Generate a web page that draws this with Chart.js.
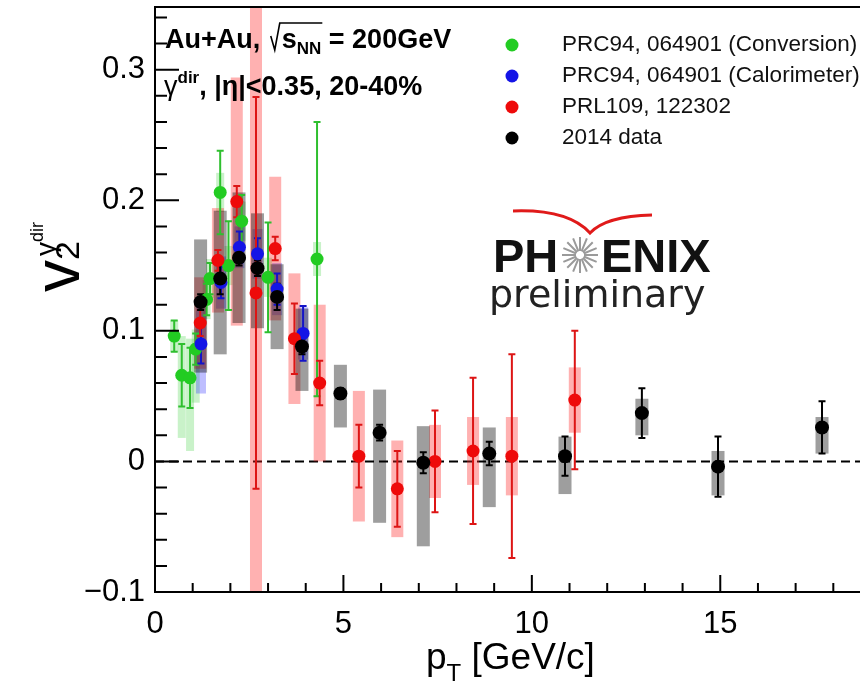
<!DOCTYPE html>
<html>
<head>
<meta charset="utf-8">
<script src="https://cdn.jsdelivr.net/npm/chart.js@4.4.0/dist/chart.umd.min.js"></script>
<style>
html, body { margin: 0; padding: 0; background: #fff; overflow: hidden; }
#wrap { width: 880px; height: 691px; }
</style>
</head>
<body>
<div id="wrap"><canvas id="v2Chart" width="880" height="691"></canvas></div>
<script>
// PRC94, 064901 (Conversion)
const convPt    = [0.51, 0.71, 0.93, 1.08, 1.37, 1.46, 1.73, 1.95, 2.30, 3.00, 4.30];
const convV     = [0.096, 0.066, 0.064, 0.086, 0.124, 0.140, 0.206, 0.150, 0.184, 0.141, 0.155];
const convStat  = [0.012, 0.024, 0.023, 0.012, 0.012, 0.012, 0.032, 0.034, 0.020, 0.042, 0.105];
const convSysUp = [0.012, 0.030, 0.030, 0.015, 0.015, 0.015, 0.015, 0.015, 0.015, 0.015, 0.013];
const convSysDn = [0.012, 0.048, 0.056, 0.041, 0.015, 0.015, 0.015, 0.015, 0.015, 0.015, 0.013];

// PRC94, 064901 (Calorimeter)
const caloPt    = [1.22, 1.75, 2.24, 2.72, 3.24, 3.93];
const caloV     = [0.090, 0.137, 0.164, 0.159, 0.132, 0.098];
const caloStat  = [0.015, 0.012, 0.012, 0.012, 0.012, 0.021];
const caloSysUp = [0.030, 0.020, 0.016, 0.019, 0.020, 0.020];
const caloSysDn = [0.038, 0.020, 0.016, 0.019, 0.020, 0.020];

// PRL109, 122302
const prlPt    = [1.20, 1.67, 2.17, 2.68, 3.19, 3.70, 4.37, 5.41, 6.43, 7.43, 8.44, 9.47, 11.14];
const prlV     = [0.106, 0.154, 0.199, 0.129, 0.163, 0.094, 0.060, 0.004, -0.021, 0.000, 0.008, 0.004, 0.047];
const prlStat  = [0.010, 0.008, 0.012, 0.150, 0.009, 0.027, 0.017, 0.024, 0.029, 0.039, 0.056, 0.078, 0.053];
const prlSysUp = [0.035, 0.040, 0.095, 0.260, 0.055, 0.050, 0.060, 0.050, 0.037, 0.028, 0.026, 0.030, 0.025];
const prlSysDn = [0.035, 0.040, 0.095, 0.260, 0.055, 0.050, 0.060, 0.050, 0.037, 0.028, 0.026, 0.030, 0.025];

// 2014 data
const run14Pt    = [1.21, 1.73, 2.23, 2.72, 3.24, 3.90, 4.92, 5.96, 7.12, 8.87, 10.88, 12.92, 14.94, 17.70];
const run14V     = [0.122, 0.140, 0.156, 0.148, 0.126, 0.088, 0.052, 0.022, -0.001, 0.006, 0.004, 0.037, -0.004, 0.026];
const run14Stat  = [0.006, 0.012, 0.006, 0.006, 0.010, 0.006, 0.004, 0.006, 0.008, 0.009, 0.015, 0.019, 0.023, 0.020];
const run14SysUp = [0.048, 0.052, 0.050, 0.042, 0.025, 0.029, 0.022, 0.033, 0.028, 0.020, 0.015, 0.011, 0.012, 0.008];
const run14SysDn = [0.054, 0.058, 0.050, 0.046, 0.040, 0.034, 0.026, 0.069, 0.064, 0.041, 0.029, 0.017, 0.022, 0.020];

// axis ticks
const xTickValues = [0, 5, 10, 15];
const xTickLabels = ['0', '5', '10', '15'];
const yTickValues = [-0.1, 0, 0.1, 0.2, 0.3];
const yTickLabels = ['\u22120.1', '0', '0.1', '0.2', '0.3'];

const FONT = '"Liberation Sans", Arial, Helvetica, sans-serif';

const series = [
    { label: 'PRC94, 064901 (Conversion)', pt: convPt, v: convV, stat: convStat, up: convSysUp, dn: convSysDn,
      color: '#22cc22', bar: '#2fbf2f', box: 'rgba(60,210,60,0.28)', boxW: 8, order: 4 },
    { label: 'PRC94, 064901 (Calorimeter)', pt: caloPt, v: caloV, stat: caloStat, up: caloSysUp, dn: caloSysDn,
      color: '#1414e6', bar: '#1414c8', box: 'rgba(40,40,255,0.3)', boxW: 10, order: 3 },
    { label: 'PRL109, 122302', pt: prlPt, v: prlV, stat: prlStat, up: prlSysUp, dn: prlSysDn,
      color: '#ee0a0a', bar: '#dd1515', box: 'rgba(255,40,40,0.36)', boxW: 12, order: 2 },
    { label: '2014 data', pt: run14Pt, v: run14V, stat: run14Stat, up: run14SysUp, dn: run14SysDn,
      color: '#000000', bar: '#000000', box: 'rgba(0,0,0,0.38)', boxW: 13, order: 1 }
];

function drawRuns(ctx, x, y, runs) {
    for (const r of runs) {
        ctx.font = r.font;
        ctx.fillText(r.text, x, y + (r.dy || 0));
        x += ctx.measureText(r.text).width;
    }
    return x;
}

function noEdgePadding(scale) {
    scale.paddingTop = 0;
    scale.paddingBottom = 0;
    scale.paddingLeft = 0;
    scale.paddingRight = 0;
}

// sys boxes and stat error bars, drawn under the markers
const errorPlugin = {
    id: 'errorPlugin',
    beforeDatasetsDraw(chart) {
        const ctx = chart.ctx, a = chart.chartArea;
        const xs = chart.scales.x, ys = chart.scales.y;
        ctx.save();
        ctx.beginPath();
        ctx.rect(a.left, a.top, a.right - a.left, a.bottom - a.top);
        ctx.clip();

        // dashed zero line
        ctx.strokeStyle = '#000';
        ctx.lineWidth = 2;
        ctx.setLineDash([9, 5]);
        ctx.beginPath();
        ctx.moveTo(a.left, ys.getPixelForValue(0));
        ctx.lineTo(a.right, ys.getPixelForValue(0));
        ctx.stroke();
        ctx.setLineDash([]);

        series.forEach(s => {
            ctx.fillStyle = s.box;
            s.pt.forEach((p, i) => {
                const x = xs.getPixelForValue(p);
                const yt = ys.getPixelForValue(s.v[i] + s.up[i]);
                const yb = ys.getPixelForValue(s.v[i] - s.dn[i]);
                ctx.fillRect(x - s.boxW / 2, yt, s.boxW, yb - yt);
            });
        });

        series.forEach(s => {
            ctx.strokeStyle = s.bar;
            ctx.lineWidth = 2;
            s.pt.forEach((p, i) => {
                const x = xs.getPixelForValue(p);
                const yt = ys.getPixelForValue(s.v[i] + s.stat[i]);
                const yb = ys.getPixelForValue(s.v[i] - s.stat[i]);
                ctx.beginPath();
                ctx.moveTo(x, yt); ctx.lineTo(x, yb);
                ctx.moveTo(x - 3.5, yt); ctx.lineTo(x + 3.5, yt);
                ctx.moveTo(x - 3.5, yb); ctx.lineTo(x + 3.5, yb);
                ctx.stroke();
            });
        });
        ctx.restore();
    },
    afterDraw(chart) {
        const ctx = chart.ctx, a = chart.chartArea;
        const xs = chart.scales.x, ys = chart.scales.y;
        ctx.save();

        // frame + inward ticks
        ctx.strokeStyle = '#000';
        ctx.lineWidth = 2;
        ctx.strokeRect(a.left, a.top, a.right - a.left, a.bottom - a.top);
        ctx.beginPath();
        for (let t = 0; t <= xs.max + 1e-9; t += 1) {
            const x = xs.getPixelForValue(t);
            const len = (t % 5 === 0) ? 17 : 9;
            ctx.moveTo(x, a.bottom); ctx.lineTo(x, a.bottom - len);
        }
        for (let k = -5; k * 0.02 <= ys.max + 1e-9; k++) {
            const y = ys.getPixelForValue(k * 0.02);
            const len = (k % 5 === 0) ? 24 : 12;
            ctx.moveTo(a.left, y); ctx.lineTo(a.left + len, y);
        }
        ctx.stroke();

        ctx.fillStyle = '#000';
        ctx.textBaseline = 'alphabetic';
        ctx.textAlign = 'left';

        // header text
        let x = drawRuns(ctx, 165, 48, [{ text: 'Au+Au, ', font: 'bold 27px ' + FONT }]);
        x += 3;
        ctx.lineWidth = 1.6;
        ctx.beginPath();
        ctx.moveTo(x, 36); ctx.lineTo(x + 4, 50); ctx.lineTo(x + 9, 23);
        const sx = x + 11;
        let x2 = drawRuns(ctx, sx, 48, [
            { text: 's', font: 'bold 27px ' + FONT },
            { text: 'NN', font: 'bold 17px ' + FONT, dy: 6 }
        ]);
        ctx.lineTo(x2 + 1, 23);
        ctx.stroke();
        drawRuns(ctx, x2, 48, [{ text: ' = 200GeV', font: 'bold 27px ' + FONT }]);

        drawRuns(ctx, 164, 95, [
            { text: '\u03b3', font: '27px ' + FONT },
            { text: 'dir', font: 'bold 17px ' + FONT, dy: -12 },
            { text: ', |\u03b7|<0.35, 20-40%', font: 'bold 27px ' + FONT }
        ]);

        // legend
        const legendY = [45, 76, 107, 138];
        ctx.textBaseline = 'middle';
        series.forEach((s, i) => {
            ctx.fillStyle = s.color;
            ctx.beginPath();
            ctx.arc(512, legendY[i], 6.5, 0, Math.PI * 2);
            ctx.fill();
            ctx.fillStyle = '#111';
            ctx.font = '22.5px ' + FONT;
            ctx.fillText(s.label, 562, legendY[i]);
        });
        ctx.textBaseline = 'alphabetic';

        // PHENIX preliminary logo
        ctx.strokeStyle = '#e01a1a';
        ctx.lineWidth = 3;
        ctx.beginPath();
        ctx.moveTo(513, 211);
        ctx.quadraticCurveTo(568, 209, 590, 233);
        ctx.quadraticCurveTo(606, 216, 652, 215);
        ctx.stroke();
        ctx.fillStyle = '#111';
        ctx.font = 'bold 47px ' + FONT;
        ctx.fillText('PH', 493, 272);
        ctx.fillText('ENIX', 601, 272);
        ctx.strokeStyle = '#9a9a9a';
        ctx.lineWidth = 2;
        ctx.beginPath();
        for (let k = 0; k < 16; k++) {
            const ang = k * Math.PI / 8;
            ctx.moveTo(580 + 4 * Math.cos(ang), 255 + 4 * Math.sin(ang));
            ctx.lineTo(580 + 18 * Math.cos(ang), 255 + 18 * Math.sin(ang));
        }
        ctx.stroke();
        ctx.fillStyle = '#222';
        ctx.font = '38px "DejaVu Sans", ' + FONT;
        ctx.fillText('preliminary', 489, 307);

        // axis titles
        ctx.fillStyle = '#000';
        drawRuns(ctx, 426, 669, [
            { text: 'p', font: '37px ' + FONT },
            { text: 'T', font: '24px ' + FONT, dy: 12 },
            { text: ' [GeV/c]', font: '37px ' + FONT }
        ]);
        ctx.translate(79, 292);
        ctx.rotate(-Math.PI / 2);
        drawRuns(ctx, 0, 0, [
            { text: 'v', font: '64px ' + FONT },
            { text: '2', font: '34px ' + FONT, dy: 0 }
        ]);
        drawRuns(ctx, 36, -24, [
            { text: '\u03b3', font: '28px ' + FONT },
            { text: 'dir', font: '18px ' + FONT, dy: -12 }
        ]);
        ctx.restore();
    }
};

const ctx = document.getElementById('v2Chart').getContext('2d');
new Chart(ctx, {
    type: 'scatter',
    data: {
        datasets: series.map(s => ({
            label: s.label,
            data: s.pt.map((p, i) => ({ x: p, y: s.v[i] })),
            backgroundColor: s.color,
            borderWidth: 0,
            pointRadius: s.order === 1 ? 7 : 6.5,
            order: s.order
        }))
    },
    options: {
        responsive: false,
        devicePixelRatio: 1,
        animation: false,
        layout: { padding: { top: 5, right: 9, left: 0, bottom: 0 } },
        plugins: { legend: { display: false }, tooltip: { enabled: false } },
        scales: {
            x: {
                type: 'linear',
                min: 0,
                max: 19,
                grid: { display: false, drawTicks: false },
                border: { display: false },
                afterBuildTicks: scale => { scale.ticks = xTickValues.map(v => ({ value: v })); },
                afterFit: scale => { scale.height = 99; noEdgePadding(scale); },
                ticks: {
                    color: '#000',
                    padding: 14,
                    maxRotation: 0,
                    autoSkip: false,
                    font: { family: FONT, size: 31 },
                    callback: v => xTickLabels[xTickValues.indexOf(v)]
                }
            },
            y: {
                type: 'linear',
                min: -0.1,
                max: 0.348,
                grid: { display: false, drawTicks: false },
                border: { display: false },
                afterBuildTicks: scale => { scale.ticks = yTickValues.map(v => ({ value: v })); },
                afterFit: scale => { scale.width = 155; noEdgePadding(scale); },
                ticks: {
                    color: '#000',
                    padding: 10,
                    autoSkip: false,
                    font: { family: FONT, size: 31 },
                    callback: v => yTickLabels[yTickValues.findIndex(t => Math.abs(t - v) < 1e-9)]
                }
            }
        }
    },
    plugins: [errorPlugin]
});
</script>
</body>
</html>
